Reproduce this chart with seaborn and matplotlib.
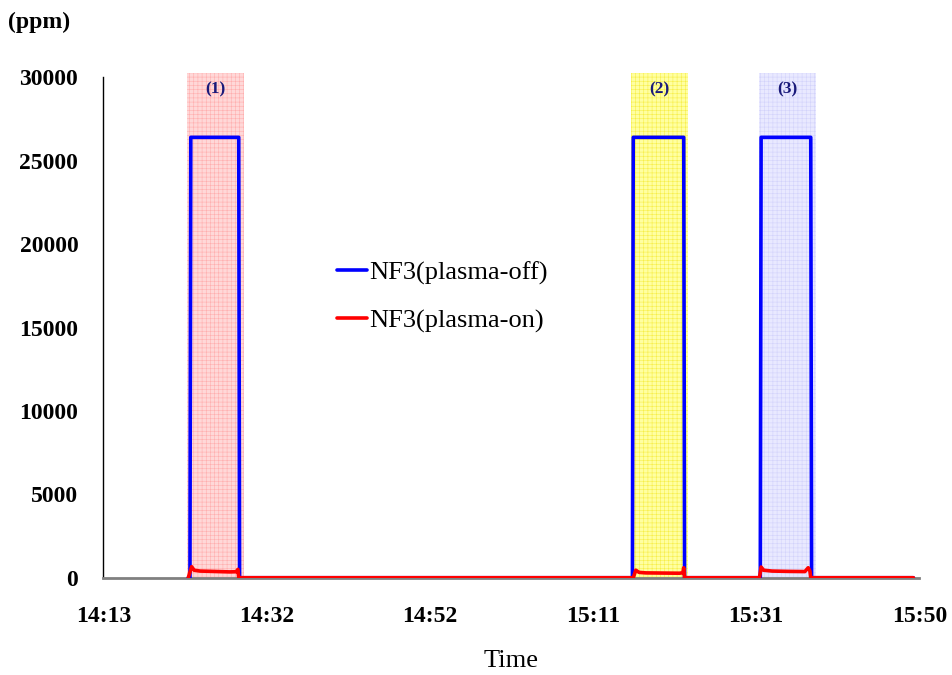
import numpy as np
import pandas as pd
import matplotlib
matplotlib.use("Agg")
import matplotlib.pyplot as plt
import seaborn as sns

# ── Data (x = minutes after 14:13) ────────────────────────────────────────────
off_minutes = [10.1, 10.3, 10.4, 16.1, 16.2, 62.9, 63.0, 69.0, 69.1,
               78.1, 78.2, 84.1, 84.2, 96.3]
off_ppm = [0, 0, 26400, 26400, 0, 0, 26400, 26400, 0,
           0, 26400, 26400, 0, 0]

on_minutes = [10.1, 10.5, 10.8, 11.5, 13.0, 15.0, 15.8, 16.0, 16.1,
              63.0, 63.3, 63.7, 64.5, 66.5, 68.5, 68.9, 69.0, 69.1,
              78.0, 78.2, 78.5, 79.5, 81.5, 83.4, 83.8, 84.0, 84.1, 96.3]
on_ppm = [0, 660, 450, 400, 380, 350, 360, 500, 0,
          0, 450, 320, 290, 280, 270, 300, 600, 0,
          0, 640, 450, 400, 380, 370, 600, 400, 0, 0]

series_names = ["NF3(plasma-off)", "NF3(plasma-on)"]
series_colors = ["#0000ff", "#ff0000"]

tick_minutes = [0, 19.4, 38.8, 58.2, 77.6, 97.0]
tick_labels = ["14:13", "14:32", "14:52", "15:11", "15:31", "15:50"]

zone_labels = ["(1)", "(2)", "(3)"]
zone_start = [9.95, 62.7, 77.95]
zone_end = [16.73, 69.5, 84.7]
zone_colors = ["#ffb8b8", "#ffff55", "#d8d8ff"]
zone_hatch_colors = ["#ff8c8c", "#f0e000", "#c0c0f8"]

y_ticks = [0, 5000, 10000, 15000, 20000, 25000, 30000]

df = pd.concat([
    pd.DataFrame({"minute": off_minutes, "ppm": off_ppm, "series": series_names[0]}),
    pd.DataFrame({"minute": on_minutes, "ppm": on_ppm, "series": series_names[1]}),
], ignore_index=True)

# ── Style ─────────────────────────────────────────────────────────────────────
sns.set_style("white")
plt.rcParams["font.family"] = ["Liberation Serif", "DejaVu Serif"]
plt.rcParams["hatch.linewidth"] = 0.4
plt.rcParams["text.color"] = "black"

fig = plt.figure(figsize=(9.53, 6.75), dpi=100)
ax = fig.add_axes([0.1084, 0.1441, 0.8562, 0.7414])

# shaded sampling windows
for i, (x0, x1) in enumerate(zip(zone_start, zone_end)):
    ax.axvspan(x0, x1, ymin=0, ymax=1.008, facecolor=zone_colors[i],
               edgecolor=zone_hatch_colors[i], hatch="++++", linewidth=0,
               alpha=0.55, zorder=1, clip_on=False)
    ax.text((x0 + x1) / 2, 29300, zone_labels[i], ha="center", va="center",
            fontsize=12.5, fontweight="bold", color="#1a1a7a", zorder=5)

sns.lineplot(data=df, x="minute", y="ppm", hue="series", hue_order=series_names,
             palette=series_colors, estimator=None, sort=False, linewidth=2.6,
             ax=ax, zorder=3)

ax.set_xlim(0, 97)
ax.set_ylim(0, 30000)
ax.set_xticks(tick_minutes)
ax.set_xticklabels(tick_labels, fontsize=17, fontweight="bold")
ax.set_yticks(y_ticks)
ax.set_yticklabels([str(v) for v in y_ticks], fontsize=17, fontweight="bold")
ax.tick_params(axis="x", direction="out", length=7, width=1.2, color="#808080",
               labelcolor="black", pad=13)
ax.tick_params(axis="y", direction="out", length=7, width=1, color="black",
               labelcolor="black", pad=11)

for s in ["top", "right"]:
    ax.spines[s].set_visible(False)
ax.spines["left"].set_color("black")
ax.spines["left"].set_linewidth(1)
ax.spines["bottom"].set_color("#808080")
ax.spines["bottom"].set_linewidth(2)

ax.set_xlabel("Time", fontsize=19, labelpad=17, color="black")
ax.set_ylabel("")
fig.text(0.008, 0.967, "(ppm)", fontsize=17, fontweight="bold", va="center", ha="left")

ax.legend(loc="center left", bbox_to_anchor=(0.287, 0.561), frameon=False,
          fontsize=19, handlelength=1.1, handletextpad=0.12, labelspacing=0.9,
          borderpad=0, borderaxespad=0)

fig.savefig("out.png", dpi=100)
plt.close(fig)
